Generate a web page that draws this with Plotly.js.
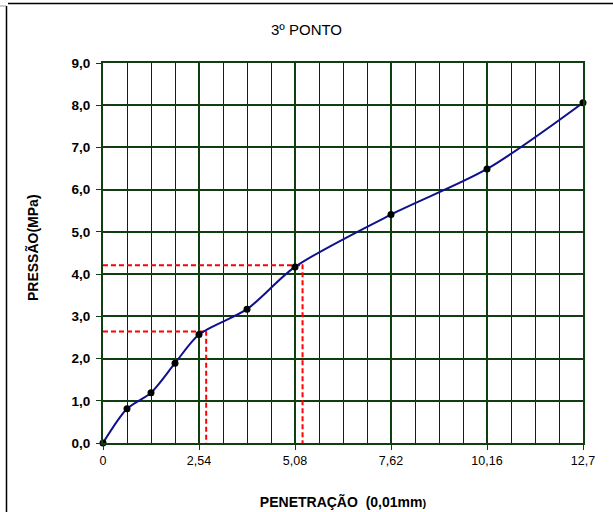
<!DOCTYPE html>
<html>
<head>
<meta charset="utf-8">
<script src="https://cdn.plot.ly/plotly-3.0.1.min.js"></script>
<style>html,body{margin:0;padding:0;background:#fff;}#chart{width:613px;height:512px;}</style>
</head>
<body>
<div id="chart"></div>
<script>
// Data
const penetracao = [0, 0.635, 1.27, 1.905, 2.54, 3.81, 5.08, 7.62, 10.16, 12.7];
const pressao    = [0, 0.81, 1.19, 1.89, 2.57, 3.17, 4.17, 5.41, 6.49, 8.06];
const xTickVals  = [0, 2.54, 5.08, 7.62, 10.16, 12.7];
const xTickText  = ['0', '2,54', '5,08', '7,62', '10,16', '12,7'];
const guide1X = [0, 2.75, 2.73, 2.73];
const guide1Y = [2.64, 2.64, 2.64, 0];
const guide2X = [0, 5.3, 5.28, 5.28];
const guide2Y = [4.21, 4.21, 4.21, 0];

const green = '#0f3f0f';

const traces = [
  {x: guide1X, y: guide1Y, mode: 'lines', line: {color: '#ff0000', width: 2, dash: '5px,3px'}, hoverinfo: 'skip', cliponaxis: false},
  {x: guide2X, y: guide2Y, mode: 'lines', line: {color: '#ff0000', width: 2, dash: '5px,3px'}, hoverinfo: 'skip', cliponaxis: false},
  {x: penetracao, y: pressao, mode: 'lines+markers',
   line: {color: '#10108f', width: 2, shape: 'spline', smoothing: 0.8},
   marker: {color: '#000', size: 7}, cliponaxis: false}
];

const layout = {
  width: 613, height: 512,
  margin: {l: 103, r: 30, t: 63, b: 69},
  paper_bgcolor: '#fff', plot_bgcolor: '#fff',
  showlegend: false,
  separators: ',.',
  font: {family: 'Liberation Sans, Arial, sans-serif', color: '#000'},
  title: {text: '3º PONTO', font: {size: 15, color: '#000'}, x: 0.5, xanchor: 'center', xref: 'container', y: 1 - 30/512, yanchor: 'middle'},
  xaxis: {
    range: [0, 12.7], tickvals: xTickVals, ticktext: xTickText,
    showgrid: true, gridcolor: green, gridwidth: 2,
    minor: {tick0: 0, dtick: 0.635, showgrid: true, gridcolor: '#1a1a1a', gridwidth: 1, ticks: ''},
    zeroline: false, showline: true, linecolor: green, linewidth: 2, mirror: true,
    ticks: 'outside', ticklen: 5, tickcolor: green, tickwidth: 1,
    tickfont: {size: 12.5, color: '#000'},
    title: {text: 'PENETRAÇÃO  (0,01mm<span style="font-size:11px">)</span>', font: {size: 14, weight: 'bold', color: '#000'}, standoff: 30}
  },
  yaxis: {
    range: [0, 9], dtick: 1, tick0: 0, tickformat: '.1f',
    showgrid: true, gridcolor: green, gridwidth: 2,
    zeroline: false, showline: true, linecolor: green, linewidth: 2, mirror: true,
    ticks: 'outside', ticklen: 5, tickcolor: green, tickwidth: 1,
    ticklabelstandoff: 3,
    tickfont: {size: 13.5, color: '#000', weight: 'bold'}
  },
  annotations: [
    {text: 'PRESSÃO(MPa)', textangle: -90, showarrow: false, xref: 'paper', yref: 'paper',
     x: (33-103)/480, y: (443-248)/380, xanchor: 'center', yanchor: 'middle',
     font: {size: 14, weight: 'bold', color: '#000'}}
  ],
  shapes: [
    {type: 'line', xref: 'paper', yref: 'paper', x0: (8-103)/480, x1: (613-103)/480, y0: (443-3.5)/380, y1: (443-3.5)/380, line: {color: '#000', width: 1.5}},
    {type: 'line', xref: 'paper', yref: 'paper', x0: (6.5-103)/480, x1: (6.5-103)/480, y0: (443-6)/380, y1: (443-512)/380, line: {color: '#000', width: 1.5}},
    {type: 'line', xref: 'paper', yref: 'paper', x0: (0-103)/480, x1: (6-103)/480, y0: (443-6)/380, y1: (443-6)/380, line: {color: '#999', width: 1}}
  ]
};

Plotly.newPlot('chart', traces, layout, {displayModeBar: false, staticPlot: true});
</script>
</body>
</html>
